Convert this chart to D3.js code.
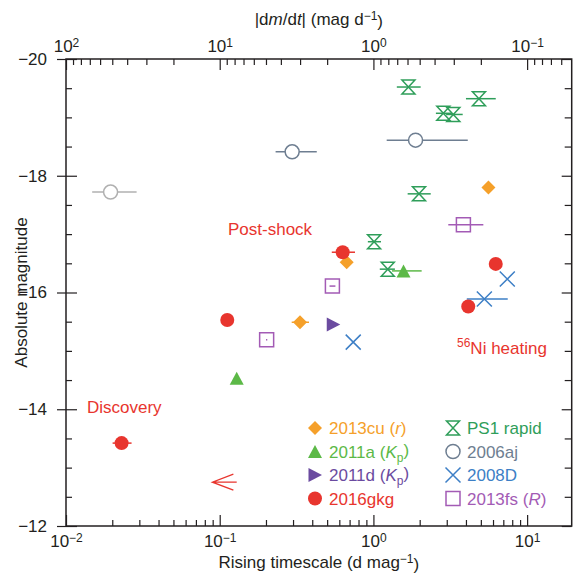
<!DOCTYPE html>
<html>
<head>
<meta charset="utf-8">
<script src="https://cdn.jsdelivr.net/npm/d3@7"></script>
<style>
  body { margin: 0; background: #fff; }
  svg { display: block; font-family: "Liberation Sans", Arial, Helvetica, sans-serif; }
  .tick text { fill: #231f20; }
</style>
</head>
<body>
<div id="chart"></div>
<script>
// rising timescale t (d/mag), absolute magnitude, optional error range lo..hi
var ps1Rapid = [
  {t: 1.69, mag: -19.52, lo: 1.42, hi: 2.03},
  {t: 2.85, mag: -19.07, lo: 2.55, hi: 3.24},
  {t: 3.31, mag: -19.05, lo: 2.97, hi: 3.81},
  {t: 4.86, mag: -19.32, lo: 4.00, hi: 6.25},
  {t: 1.98, mag: -17.69, lo: 1.67, hi: 2.36},
  {t: 1.01, mag: -16.87, lo: 0.92, hi: 1.12},
  {t: 1.24, mag: -16.40, lo: 1.10, hi: 1.38}
];
var sn2006aj = [
  {t: 0.296, mag: -18.41, lo: 0.231, hi: 0.428},
  {t: 1.88, mag: -18.61, lo: 1.22, hi: 4.11}
];
var sn2006ajGrey = [
  {t: 0.0195, mag: -17.72, lo: 0.0148, hi: 0.0288}
];
var sn2013cu = [
  {t: 5.60, mag: -17.80},
  {t: 0.670, mag: -16.52},
  {t: 0.333, mag: -15.49, lo: 0.294, hi: 0.381}
];
var sn2011a = [
  {t: 1.57, mag: -16.37, lo: 1.32, hi: 2.06},
  {t: 0.129, mag: -14.53}
];
var sn2011d = [
  {t: 0.548, mag: -15.45}
];
var sn2016gkg = [
  {t: 0.0230, mag: -13.42, lo: 0.0201, hi: 0.0267},
  {t: 0.112, mag: -15.53},
  {t: 0.631, mag: -16.69, lo: 0.536, hi: 0.759},
  {t: 6.25, mag: -16.49},
  {t: 4.14, mag: -15.76}
];
// upper limit arrow for 2016gkg
var gkgLimit = [{t: 0.129, mag: -12.75, to: 0.0896}];
var sn2008D = [
  {t: 0.739, mag: -15.15},
  {t: 7.43, mag: -16.23},
  {t: 5.27, mag: -15.89, lo: 4.05, hi: 7.48}
];
var sn2013fs = [
  {t: 3.85, mag: -17.16, lo: 3.07, hi: 5.19},
  {t: 0.541, mag: -16.11, lo: 0.518, hi: 0.566},
  {t: 0.202, mag: -15.19, lo: 0.200, hi: 0.204}
];

var xMajor = [0.01, 0.1, 1, 10];
var xExp = ["\u22122", "\u22121", "0", "1"];
var topMajor = [100, 10, 1, 0.1];
var topExp = ["2", "1", "0", "\u22121"];
var yMajor = [-20, -18, -16, -14, -12];

var col = {
  cu: "#f5a02a", a: "#5cb947", d: "#6b4ba0", gkg: "#e8352e",
  ps1: "#2f9e5a", aj: "#6e7e91", ajGrey: "#b0b0b0", D: "#3d7fc6", fs: "#a35bb5"
};

var width = 574, height = 575;
var plot = {left: 66, right: 571.7, top: 59, bottom: 526};
var tMax = 19.5;

var x = d3.scaleLog().domain([0.01, tMax]).range([plot.left, plot.right]);
var xTop = d3.scaleLog().domain([100, 1 / tMax]).range([plot.left, plot.right]);
var y = d3.scaleLinear().domain([-20, -12]).range([plot.top, plot.bottom]);

var svg = d3.select("#chart").append("svg")
  .attr("width", width)
  .attr("height", height);

var ink = "#231f20";

/* minor tick values */
var xMinor = [];
[0.01, 0.1, 1, 10].forEach(function(b) {
  for (var k = 2; k <= 9; k++) if (b * k <= tMax) xMinor.push(b * k);
});
var topMinor = [];
[0.01, 0.1, 1, 10].forEach(function(b) {
  for (var k = 2; k <= 9; k++) if (b * k >= 1 / tMax && b * k < 100) topMinor.push(b * k);
});
var yMinor = d3.range(-20, -11.9, 0.5).filter(function(v) { return v % 2 !== 0; });

function styleAxis(g) {
  g.select(".domain").remove();
  g.selectAll("line").attr("stroke", ink).attr("stroke-width", 1.2);
  g.selectAll("text").style("font-size", "17px");
}

function powerLabels(g, exps) {
  g.selectAll(".tick text").each(function(d, i) {
    var t = d3.select(this).text("");
    t.append("tspan").text("10");
    t.append("tspan").attr("dy", "-0.45em").style("font-size", "12px").text(exps[i]);
  });
}

/* bottom axis */
svg.append("g").attr("transform", `translate(0,${plot.bottom})`)
  .call(d3.axisBottom(x).tickValues(xMinor).tickSizeInner(-6).tickSizeOuter(0).tickFormat(""))
  .call(styleAxis);
svg.append("g").attr("transform", `translate(0,${plot.bottom})`)
  .call(d3.axisBottom(x).tickValues(xMajor).tickSizeInner(-11).tickSizeOuter(0).tickPadding(9))
  .call(styleAxis)
  .call(powerLabels, xExp);

/* top axis */
svg.append("g").attr("transform", `translate(0,${plot.top})`)
  .call(d3.axisTop(xTop).tickValues(topMinor).tickSizeInner(-6).tickSizeOuter(0).tickFormat(""))
  .call(styleAxis);
svg.append("g").attr("transform", `translate(0,${plot.top})`)
  .call(d3.axisTop(xTop).tickValues(topMajor).tickSizeInner(-11).tickSizeOuter(0).tickPadding(7))
  .call(styleAxis)
  .call(powerLabels, topExp);

/* left axis */
svg.append("g").attr("transform", `translate(${plot.left},0)`)
  .call(d3.axisLeft(y).tickValues(yMinor).tickSizeInner(-6).tickSizeOuter(0).tickFormat(""))
  .call(styleAxis);
svg.append("g").attr("transform", `translate(${plot.left},0)`)
  .call(d3.axisLeft(y).tickValues(yMajor).tickSizeInner(-11).tickSizeOuter(0).tickPadding(19)
    .tickFormat(function(d) { return d3.format("d")(d).replace("-", "\u2212"); }))
  .call(styleAxis)
  .call(function(g) { g.selectAll(".tick line").attr("x1", -9); });

/* right axis */
svg.append("g").attr("transform", `translate(${plot.right},0)`)
  .call(d3.axisRight(y).tickValues(yMinor).tickSizeInner(-7).tickSizeOuter(0).tickFormat(""))
  .call(styleAxis);
svg.append("g").attr("transform", `translate(${plot.right},0)`)
  .call(d3.axisRight(y).tickValues(yMajor).tickSizeInner(-10).tickSizeOuter(0).tickFormat(""))
  .call(styleAxis);

/* frame */
svg.append("rect")
  .attr("x", plot.left).attr("y", plot.top)
  .attr("width", plot.right - plot.left).attr("height", plot.bottom - plot.top)
  .attr("fill", "none").attr("stroke", ink).attr("stroke-width", 1.5);

/* axis titles */
var xt = svg.append("text")
  .attr("x", (plot.left + plot.right) / 2).attr("y", 568)
  .attr("text-anchor", "middle").style("font-size", "17px").attr("fill", ink);
xt.append("tspan").text("Rising timescale (d mag");
xt.append("tspan").attr("dy", "-0.45em").style("font-size", "12px").text("\u22121");
xt.append("tspan").attr("dy", "0.45em").text(")");

var tt = svg.append("text")
  .attr("x", (plot.left + plot.right) / 2).attr("y", 25)
  .attr("text-anchor", "middle").style("font-size", "17px").attr("fill", ink);
tt.append("tspan").text("|d");
tt.append("tspan").style("font-style", "italic").text("m");
tt.append("tspan").text("/d");
tt.append("tspan").style("font-style", "italic").text("t");
tt.append("tspan").text("| (mag d");
tt.append("tspan").attr("dy", "-0.45em").style("font-size", "12px").text("\u22121");
tt.append("tspan").attr("dy", "0.45em").text(")");

svg.append("text")
  .attr("transform", `translate(27,${(plot.top + plot.bottom) / 2}) rotate(-90)`)
  .attr("text-anchor", "middle").style("font-size", "17px").attr("fill", ink)
  .text("Absolute magnitude");

/* marker shapes */
var shapes = {
  diamond: {d: "M0,-7L7,0L0,7L-7,0Z", fill: true},
  triUp: {d: "M0,-6.5L7,6.5L-7,6.5Z", fill: true},
  triRight: {d: "M-6.5,-7L7,0L-6.5,7Z", fill: true},
  circle: {d: "M7,0A7,7 0 1,1 -7,0A7,7 0 1,1 7,0Z", fill: true},
  ring: {d: "M7,0A7,7 0 1,1 -7,0A7,7 0 1,1 7,0Z", fill: false, white: true},
  hourglass: {d: "M-6.5,-7L6.5,-7L-6.5,7L6.5,7Z", fill: false},
  cross: {d: "M-7.5,-7.5L7.5,7.5M7.5,-7.5L-7.5,7.5", fill: false},
  square: {d: "M-7,-7H7V7H-7Z", fill: false}
};

function drawMarker(g, shape, color, cx, cy) {
  var s = shapes[shape];
  g.append("path")
    .attr("d", s.d)
    .attr("transform", `translate(${cx},${cy})`)
    .attr("fill", s.fill ? color : (s.white ? "#fff" : "none"))
    .attr("stroke", s.fill ? "none" : color)
    .attr("stroke-width", 1.5);
}

function drawSeries(data, shape, color) {
  var g = svg.append("g");
  g.selectAll("line.err")
    .data(data.filter(function(d) { return d.lo !== undefined; }))
    .enter().append("line")
    .attr("class", "err")
    .attr("x1", function(d) { return x(d.lo); })
    .attr("x2", function(d) { return x(d.hi); })
    .attr("y1", function(d) { return y(d.mag); })
    .attr("y2", function(d) { return y(d.mag); })
    .attr("stroke", color).attr("stroke-width", 1.5);
  data.forEach(function(d) { drawMarker(g, shape, color, x(d.t), y(d.mag)); });
}

drawSeries(sn2006ajGrey, "ring", col.ajGrey);
drawSeries(sn2006aj, "ring", col.aj);
drawSeries(ps1Rapid, "hourglass", col.ps1);
drawSeries(sn2013fs, "square", col.fs);
drawSeries(sn2008D, "cross", col.D);
drawSeries(sn2011a, "triUp", col.a);
drawSeries(sn2011d, "triRight", col.d);
drawSeries(sn2013cu, "diamond", col.cu);
drawSeries(sn2016gkg, "circle", col.gkg);

/* upper-limit arrow */
gkgLimit.forEach(function(d) {
  var x0 = x(d.t), x1 = x(d.to), yy = y(d.mag);
  svg.append("path")
    .attr("d", `M${x0},${yy}L${x1},${yy}M${x1 + 21},${yy - 8}L${x1},${yy}L${x1 + 21},${yy + 8}`)
    .attr("fill", "none").attr("stroke", col.gkg).attr("stroke-width", 1.3);
});

/* annotations */
function note(txt, px, py, sup) {
  var t = svg.append("text").attr("x", px).attr("y", py)
    .style("font-size", "17px").attr("fill", col.gkg);
  if (sup) {
    t.append("tspan").attr("dy", "-0.45em").style("font-size", "12px").text(sup);
    t.append("tspan").attr("dy", "0.45em").text(txt);
  } else {
    t.text(txt);
  }
}
note("Post-shock", 228, 235);
note("Discovery", 87, 413);
note("Ni heating", 457, 352, "56");

/* legend */
var legendLeft = [
  {shape: "diamond", color: col.cu, name: "2013cu", band: "r"},
  {shape: "triUp", color: col.a, name: "2011a", band: "K", sub: "p"},
  {shape: "triRight", color: col.d, name: "2011d", band: "K", sub: "p"},
  {shape: "circle", color: col.gkg, name: "2016gkg"}
];
var legendRight = [
  {shape: "hourglass", color: col.ps1, name: "PS1 rapid"},
  {shape: "ring", color: col.aj, name: "2006aj"},
  {shape: "cross", color: col.D, name: "2008D"},
  {shape: "square", color: col.fs, name: "2013fs", band: "R"}
];
var rowY = [428, 451.5, 475, 498.5];

function legendColumn(items, mx) {
  var g = svg.append("g");
  items.forEach(function(it, i) {
    drawMarker(g, it.shape, it.color, mx, rowY[i]);
    var t = g.append("text").attr("x", mx + 14).attr("y", rowY[i] + 6)
      .style("font-size", "17px").attr("fill", it.color);
    t.append("tspan").text(it.name);
    if (it.band) {
      t.append("tspan").text(" (");
      t.append("tspan").style("font-style", "italic").text(it.band);
      if (it.sub) {
        t.append("tspan").attr("dy", "0.35em").style("font-size", "12px").text(it.sub);
        t.append("tspan").attr("dy", "-0.35em").text(")");
      } else {
        t.append("tspan").text(")");
      }
    }
  });
}
legendColumn(legendLeft, 315);
legendColumn(legendRight, 453);
</script>
</body>
</html>
